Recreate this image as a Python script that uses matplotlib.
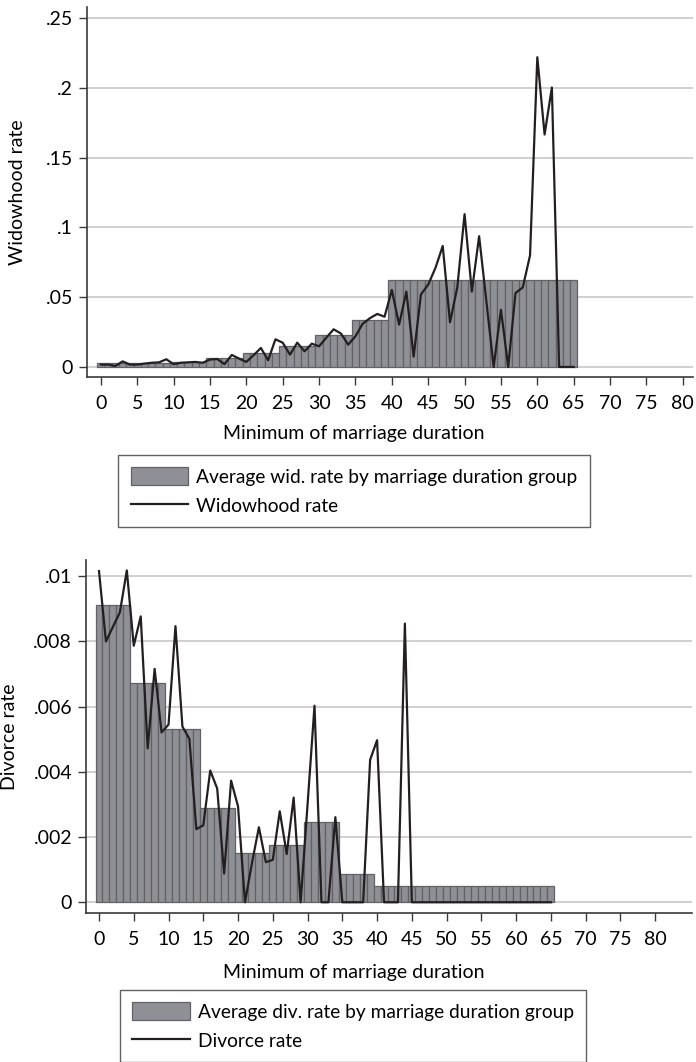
import numpy as np
import matplotlib as mpl
mpl.use('Agg')
import matplotlib.pyplot as plt

plt.rcParams['font.family'] = ['Lato', 'DejaVu Sans']

# marriage duration, years 0..65
years = np.arange(0, 66)

# duration groups: first year of each group (last group runs to 65)
group_start = [0, 5, 10, 15, 20, 25, 30, 35, 40]
group_len = [5, 5, 5, 5, 5, 5, 5, 5, 26]

wid_group_avg = [0.0025, 0.003, 0.0035, 0.0062, 0.0103, 0.0148, 0.0227, 0.0335, 0.0625]
div_group_avg = [0.00913, 0.00674, 0.00533, 0.0029, 0.0015, 0.00175, 0.00246, 0.00087, 0.00051]

wid_rate = [0.0017, 0.0017, 0.0007, 0.004, 0.0017, 0.0017, 0.0024, 0.003, 0.0033, 0.0055,
            0.002, 0.003, 0.0033, 0.0036, 0.003, 0.0053, 0.0057, 0.002, 0.0086, 0.006,
            0.0036, 0.0084, 0.0136, 0.0048, 0.0198, 0.0174, 0.0088, 0.0174, 0.0112, 0.0167,
            0.0148, 0.021, 0.027, 0.024, 0.016, 0.022, 0.031, 0.035, 0.038, 0.036,
            0.0552, 0.0303, 0.054, 0.0074, 0.052, 0.059, 0.071, 0.0867, 0.032, 0.057,
            0.1095, 0.054, 0.0937, 0.047, 0.0, 0.041, 0.0, 0.053, 0.057, 0.080,
            0.222, 0.1666, 0.2003, 0.0, 0.0, 0.0]

div_rate = [0.01016, 0.0080, 0.00845, 0.00889, 0.01018, 0.00787, 0.00877, 0.00472, 0.00716, 0.00521,
            0.00545, 0.00847, 0.00539, 0.00501, 0.00224, 0.00236, 0.00404, 0.00349, 0.00088, 0.00373,
            0.00294, 0.0, 0.0012, 0.0023, 0.00123, 0.0013, 0.00279, 0.00148, 0.00321, 0.0,
            0.003, 0.00603, 0.0, 0.0, 0.00261, 0.0, 0.0, 0.0, 0.0, 0.00437,
            0.00497, 0.0, 0.0, 0.0, 0.00855, 0.0, 0.0, 0.0, 0.0, 0.0,
            0.0, 0.0, 0.0, 0.0, 0.0, 0.0, 0.0, 0.0, 0.0, 0.0,
            0.0, 0.0, 0.0, 0.0, 0.0, 0.0]

wid_yticks = [0, 0.05, 0.1, 0.15, 0.2, 0.25]
wid_ylabels = ['0', '.05', '.1', '.15', '.2', '.25']
div_yticks = [0, 0.002, 0.004, 0.006, 0.008, 0.01]
div_ylabels = ['0', '.002', '.004', '.006', '.008', '.01']
xticks = np.arange(0, 81, 5)

bar_color = '#8f9095'
bar_edge = '#626266'
line_color = '#231f20'
axis_color = '#3a3a3a'
FS = 14


def panel(ax, group_avg, rate, yticks, ylabels, ylabel, xlim, ylim, bar_lab, line_lab,
          leg_anchor, ylab_x, xlab_xy):
    heights = np.repeat(group_avg, group_len)
    b = ax.bar(years, heights, width=1.0, color=bar_color, edgecolor=bar_edge, linewidth=0.9,
               label=bar_lab, zorder=2)
    l, = ax.plot(years, rate, color=line_color, lw=1.6, label=line_lab, zorder=3)

    ax.set_xlim(*xlim)
    ax.set_ylim(*ylim)
    ax.set_xticks(xticks)
    ax.set_xticklabels([str(t) for t in xticks])
    ax.set_yticks(yticks)
    ax.set_yticklabels(ylabels)
    ax.grid(axis='y', color='#c8c8c8', lw=1.2, zorder=0)
    ax.set_axisbelow(True)
    for s in ['top', 'right']:
        ax.spines[s].set_visible(False)
    for s in ['left', 'bottom']:
        ax.spines[s].set_color(axis_color)
        ax.spines[s].set_linewidth(1.2)
    ax.tick_params(axis='both', direction='out', length=6, width=1.0, color=axis_color,
                   labelsize=FS, pad=4)
    ax.tick_params(axis='x', pad=7)
    ax.set_xlabel('Minimum of marriage duration', fontsize=FS)
    ax.set_ylabel(ylabel, fontsize=FS)
    ax.yaxis.set_label_coords(ylab_x, 0.5)
    ax.xaxis.set_label_coords(*xlab_xy)

    leg = ax.legend([b, l], [bar_lab, line_lab], loc='upper center', bbox_to_anchor=leg_anchor,
                    bbox_transform=fig.transFigure,
                    fontsize=FS - 0.2, frameon=True, fancybox=False, handlelength=3.0,
                    handleheight=1.0, borderpad=0.65, labelspacing=0.58, handletextpad=0.4,
                    borderaxespad=0)
    leg.get_frame().set_edgecolor(axis_color)
    leg.get_frame().set_linewidth(1.0)


fig = plt.figure(figsize=(6.96, 10.62), dpi=100)
ax1 = fig.add_axes([87 / 696, 1 - 377 / 1062, 606 / 696, 370 / 1062])
ax2 = fig.add_axes([86 / 696, 1 - 913 / 1062, 606 / 696, 353 / 1062])

panel(ax1, wid_group_avg, wid_rate, wid_yticks, wid_ylabels, 'Widowhood rate',
      (-1.9, 81.4), (-0.0072, 0.258),
      'Average wid. rate by marriage duration group', 'Widowhood rate',
      (354 / 696, 1 - 455 / 1062), -0.1, ((354 - 87) / 606, -0.13))
panel(ax2, div_group_avg, div_rate, div_yticks, div_ylabels, 'Divorce rate',
      (-1.87, 85.3), (-0.00033, 0.0105),
      'Average div. rate by marriage duration group', 'Divorce rate',
      (353 / 696, 1 - 990 / 1062), -0.112, ((354 - 86) / 606, -0.144))

plt.savefig('out.png', dpi=100)
